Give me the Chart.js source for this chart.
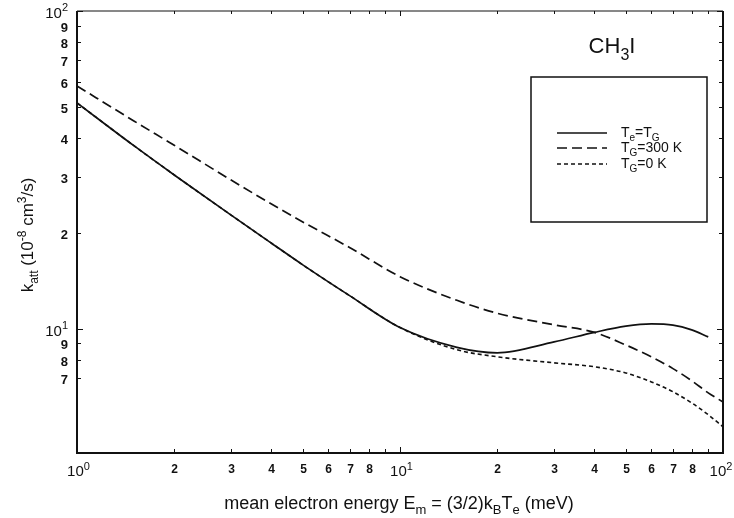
<!DOCTYPE html>
<html>
<head>
<meta charset="utf-8">
<script src="https://cdn.jsdelivr.net/npm/chart.js@4.4.1/dist/chart.umd.min.js"></script>
<style>
html, body { margin: 0; padding: 0; background: #fff; }
#wrap { width: 734px; height: 518px; }
</style>
</head>
<body>
<div id="wrap"><canvas id="chart1" width="734" height="518"></canvas></div>
<script>
// mean electron energy (meV)
const energies = [1, 1.5, 2, 3, 4, 5, 7, 10, 15, 20, 30, 40, 50, 60, 70, 80, 90, 100];
// k_att (1e-8 cm^3/s)
const kTeTg  = [51.4, 37.7, 30.5, 22.8, 18.6, 15.9, 12.7, 10.1, 8.75, 8.41, 9.1, 9.75, 10.2, 10.37, 10.28, 9.93, 9.44, null];
const kTg300 = [58.1, 45.1, 37.8, 29.4, 24.7, 21.7, 18.0, 14.6, 12.3, 11.2, 10.3, 9.75, 8.9, 8.17, 7.5, 6.87, 6.29, 5.89];
const kTg0   = [51.4, 37.7, 30.5, 22.8, 18.6, 15.9, 12.7, 10.1, 8.6, 8.17, 7.82, 7.6, 7.27, 6.81, 6.34, 5.85, 5.37, 4.92];
const seriesNames = ['T_e=T_G', 'T_G=300 K', 'T_G=0 K'];

const xTickValues = [1, 2, 3, 4, 5, 6, 7, 8, 9, 10, 20, 30, 40, 50, 60, 70, 80, 90, 100];
const xTickLabels = ['10^0', '2', '3', '4', '5', '6', '7', '8', '', '10^1', '2', '3', '4', '5', '6', '7', '8', '', '10^2'];
const yTickValues = [7, 8, 9, 10, 20, 30, 40, 50, 60, 70, 80, 90, 100];
const yTickLabels = ['7', '8', '9', '10^1', '2', '3', '4', '5', '6', '7', '8', '9', '10^2'];

const xTitle = 'mean electron energy E_m = (3/2)k_BT_e (meV)';
const yTitle = 'k_{att} (10^{-8} cm^3/s)';
const plotTitle = 'CH_3I';

const FONT = '"Liberation Sans", Arial, Helvetica, sans-serif';

const toPoints = (vals) => energies.map((e, i) => ({ x: e, y: vals[i] })).filter(p => p.y !== null);

// "a_b", "a^b", "a_{bc}" -> [[text, mode]]  mode: 0 normal, 1 sup, -1 sub
function parseRich(s) {
    const out = [];
    let buf = '';
    let i = 0;
    while (i < s.length) {
        const c = s[i];
        if (c === '^' || c === '_') {
            if (buf) { out.push([buf, 0]); buf = ''; }
            let t;
            if (s[i + 1] === '{') {
                const j = s.indexOf('}', i);
                t = s.slice(i + 2, j);
                i = j + 1;
            } else {
                t = s[i + 1];
                i += 2;
            }
            out.push([t, c === '^' ? 1 : -1]);
        } else {
            buf += c;
            i++;
        }
    }
    if (buf) out.push([buf, 0]);
    return out;
}

function drawRich(ctx, str, x, y, size, align, bold) {
    const parts = parseRich(str);
    const w8 = bold ? 'bold ' : '';
    const fontFor = p => w8 + (p[1] ? Math.round(size * 0.72) : size) + 'px ' + FONT;
    let w = 0;
    parts.forEach(p => { ctx.font = fontFor(p); w += ctx.measureText(p[0]).width; });
    let cx = align === 'right' ? x - w : align === 'center' ? x - w / 2 : x;
    parts.forEach(p => {
        ctx.font = fontFor(p);
        const dy = p[1] === 1 ? -size * 0.42 : p[1] === -1 ? size * 0.3 : 0;
        ctx.fillText(p[0], cx, y + dy);
        cx += ctx.measureText(p[0]).width;
    });
}

const isMajor = v => Math.abs(Math.log10(v) - Math.round(Math.log10(v))) < 1e-9;

const framePlugin = {
    id: 'frame',
    afterDraw(chart) {
        const ctx = chart.ctx;
        const a = chart.chartArea;
        const xs = chart.scales.x;
        const ys = chart.scales.y;
        ctx.save();
        ctx.fillStyle = '#111';
        ctx.strokeStyle = '#111';
        ctx.textBaseline = 'alphabetic';

        // frame
        ctx.lineWidth = 2;
        ctx.beginPath();
        ctx.moveTo(a.left, a.top); ctx.lineTo(a.left, a.bottom); ctx.lineTo(a.right, a.bottom); ctx.lineTo(a.right, a.top);
        ctx.stroke();
        ctx.lineWidth = 1;
        ctx.beginPath();
        ctx.moveTo(a.left, a.top); ctx.lineTo(a.right, a.top);
        ctx.stroke();

        // x ticks and labels
        ctx.lineWidth = 1;
        xTickValues.forEach((v, i) => {
            const px = Math.round(xs.getPixelForValue(v)) + 0.5;
            const len = isMajor(v) ? 6 : 4;
            ctx.beginPath();
            ctx.moveTo(px, a.bottom); ctx.lineTo(px, a.bottom - len);
            ctx.moveTo(px, a.top); ctx.lineTo(px, a.top + len - 1);
            ctx.stroke();
            const lab = xTickLabels[i];
            if (!lab) return;
            if (lab.indexOf('^') >= 0) drawRich(ctx, lab, Math.min(px + 1, 721), 476, 15, 'center', false);
            else drawRich(ctx, lab, px, 473, 12, 'center', true);
        });

        // y ticks and labels
        yTickValues.forEach((v, i) => {
            const py = Math.round(ys.getPixelForValue(v)) + 0.5;
            const len = isMajor(v) ? 6 : 4;
            ctx.beginPath();
            ctx.moveTo(a.left, py); ctx.lineTo(a.left + len, py);
            ctx.moveTo(a.right, py); ctx.lineTo(a.right - len, py);
            ctx.stroke();
            const lab = yTickLabels[i];
            if (!lab) return;
            if (lab.indexOf('^') >= 0) drawRich(ctx, lab, 68, py + 6, 15, 'right', false);
            else drawRich(ctx, lab, 68, py + 5, 13, 'right', true);
        });

        // axis titles
        drawRich(ctx, xTitle, 399, 509, 18, 'center', false);
        ctx.save();
        ctx.translate(33, 235);
        ctx.rotate(-Math.PI / 2);
        drawRich(ctx, yTitle, 0, 0, 17, 'center', false);
        ctx.restore();

        // compound label
        drawRich(ctx, plotTitle, 612, 53, 22, 'center', false);

        // legend box
        ctx.lineWidth = 1.5;
        ctx.strokeRect(531, 77, 176, 145);
        const rows = [133, 148, 164];
        chart.data.datasets.forEach((ds, i) => {
            ctx.save();
            ctx.lineWidth = ds.borderWidth;
            ctx.setLineDash(ds.borderDash || []);
            ctx.beginPath();
            ctx.moveTo(557, rows[i]); ctx.lineTo(607, rows[i]);
            ctx.stroke();
            ctx.restore();
            drawRich(ctx, ds.label, 621, rows[i] + 4, 14, 'left', false);
        });
        ctx.restore();
    }
};

const config = {
    type: 'line',
    data: {
        datasets: [
            { label: seriesNames[0], data: toPoints(kTeTg), borderColor: '#111', borderWidth: 1.7, borderDash: [] },
            { label: seriesNames[1], data: toPoints(kTg300), borderColor: '#111', borderWidth: 1.7, borderDash: [10, 5] },
            { label: seriesNames[2], data: toPoints(kTg0), borderColor: '#111', borderWidth: 1.6, borderDash: [4, 3] }
        ]
    },
    options: {
        responsive: false,
        animation: false,
        layout: { padding: { left: 77, right: 11, top: 11, bottom: 65 } },
        elements: {
            point: { radius: 0 },
            line: { cubicInterpolationMode: 'monotone', fill: false }
        },
        plugins: {
            legend: { display: false },
            tooltip: { enabled: false }
        },
        scales: {
            x: { type: 'logarithmic', min: 1, max: 100, display: false },
            y: { type: 'logarithmic', min: 4.07, max: 100, display: false }
        }
    },
    plugins: [framePlugin]
};

const myChart = new Chart(document.getElementById('chart1'), config);
</script>
</body>
</html>
